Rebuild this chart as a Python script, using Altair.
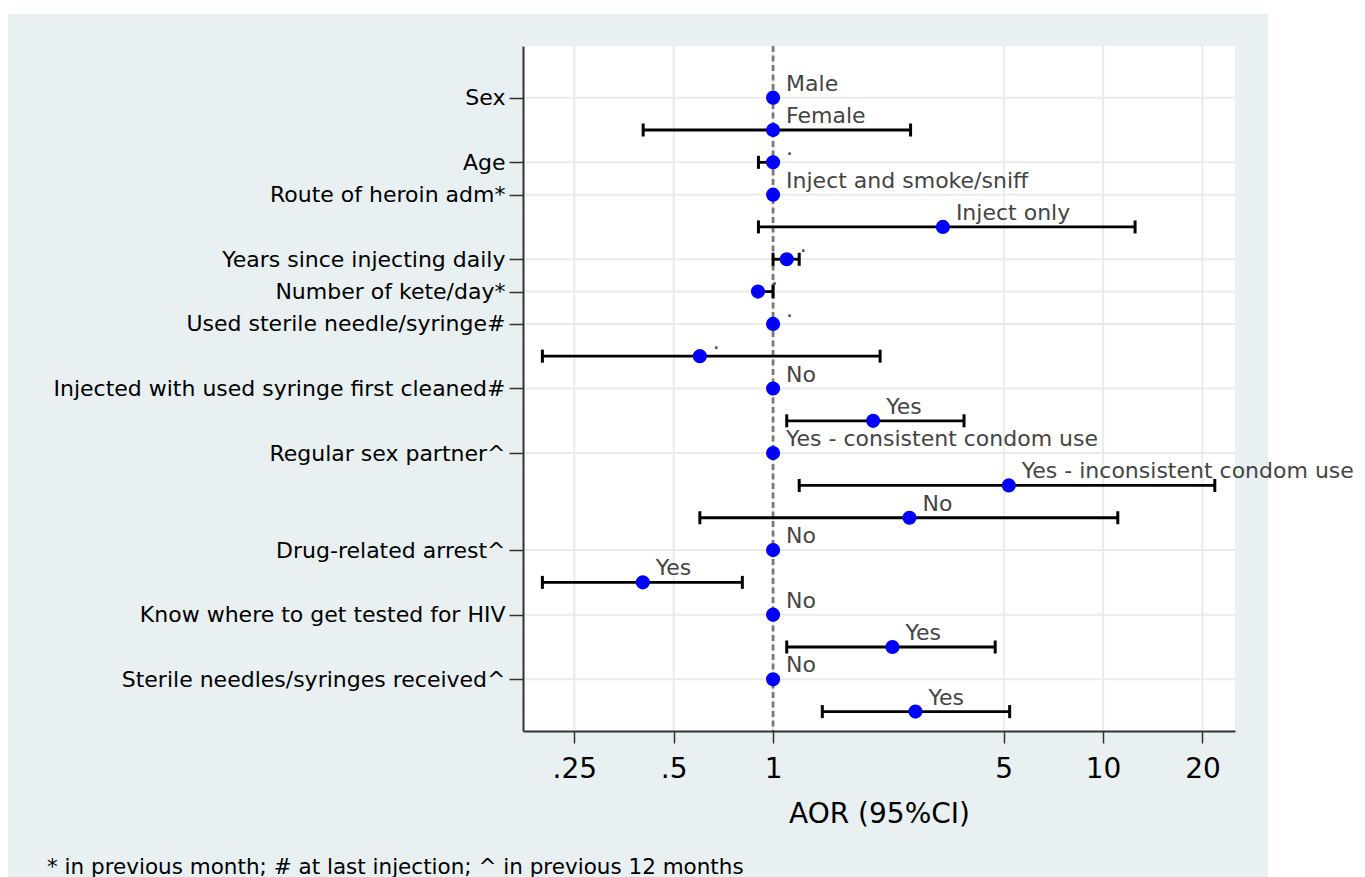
import altair as alt
import pandas as pd

# ---------------- data ----------------
rows = list(range(1, 21))
point_labels = [
    "Male", "Female", ".", "Inject and smoke/sniff", "Inject only",
    ".", ".", ".", ".", "No", "Yes",
    "Yes - consistent condom use", "Yes - inconsistent condom use", "No",
    "No", "Yes", "No", "Yes", "No", "Yes",
]
aor = [1, 1, 1, 1, 3.27, 1.10, 0.90, 1, 0.60, 1, 2.01, 1, 5.18, 2.59,
       1, 0.403, 1, 2.30, 1, 2.70]
ci_lo = [None, 0.404, 0.903, None, 0.903, 1.0, 0.90, None, 0.20, None, 1.10,
         None, 1.20, 0.60, None, 0.20, None, 1.10, None, 1.41]
ci_hi = [None, 2.61, 1.0, None, 12.5, 1.20, 1.0, None, 2.11, None, 3.79,
         None, 21.8, 11.08, None, 0.807, None, 4.71, None, 5.21]

axis_rows = [1, 3, 4, 6, 7, 8, 10, 12, 15, 17, 19]
axis_names = [
    "Sex", "Age", "Route of heroin adm*", "Years since injecting daily",
    "Number of kete/day*", "Used sterile needle/syringe#",
    "Injected with used syringe first cleaned#", "Regular sex partner^",
    "Drug-related arrest^", "Know where to get tested for HIV",
    "Sterile needles/syringes received^",
]
x_ticks = [0.25, 0.5, 1, 5, 10, 20]
x_tick_text = [".25", ".5", "1", "5", "10", "20"]
x_title = "AOR (95%CI)"
footnote = "* in previous month; # at last injection; ^ in previous 12 months"

# ---------------- layout / style ----------------
W, H = 712, 685
PAD_L, PAD_T = 523, 46
TOTAL_W, TOTAL_H = 1365, 877
FONT = "DejaVu Sans"
BG = "#E8F0F2"
GRID = "#EBEBEB"

df = pd.DataFrame({"row": rows, "label": point_labels, "aor": aor,
                   "lo": ci_lo, "hi": ci_hi})
ci = df.dropna(subset=["lo", "hi"])

xs = alt.Scale(type="log", domain=[0.1747, 25.1], nice=False)
ys = alt.Scale(domain=[-0.6, 20.6], reverse=True, nice=False, zero=False)


def ternary(field, keys, texts):
    parts = [f"{field} == {k} ? '{t}'" for k, t in zip(keys, texts)]
    return " : ".join(parts) + " : ''"


x_axis = alt.Axis(
    values=x_ticks, labelExpr=ternary("datum.value", x_ticks, x_tick_text),
    title=x_title, grid=False, zindex=1, tickSize=12, tickColor="#333333",
    tickWidth=1.5, domainColor="#333333", domainWidth=2, labelFont=FONT,
    labelFontSize=28, labelColor="black", labelPadding=12, titleFont=FONT,
    titleFontSize=28, titleFontWeight="normal", titleColor="black",
    titlePadding=17, labelFlush=False, labelOverlap=False,
)
y_axis = alt.Axis(
    values=axis_rows, labelExpr=ternary("datum.value", axis_rows, axis_names),
    title=None, grid=False, zindex=1, tickSize=14, tickColor="#333333",
    tickWidth=1.5, domainColor="#333333", domainWidth=2, labelFont=FONT,
    labelFontSize=22, labelColor="black", labelPadding=4, labelLimit=1000,
    labelOverlap=False,
)


def X(field):
    return alt.X(field, scale=xs, axis=x_axis)


def Y(field):
    return alt.Y(field, scale=ys, axis=y_axis)


one = alt.Data(values=[{"a": 1}])

bg = alt.Chart(one).mark_rect(color=BG).encode(
    x=alt.value(8 - PAD_L), x2=alt.value(1268 - PAD_L),
    y=alt.value(14 - PAD_T), y2=alt.value(TOTAL_H - PAD_T),
)
panel = alt.Chart(one).mark_rect(color="white").encode(
    x=alt.value(0), x2=alt.value(W), y=alt.value(0), y2=alt.value(H),
)
vgrid = alt.Chart(pd.DataFrame({"v": x_ticks})).mark_rule(
    color=GRID, strokeWidth=2).encode(x=X("v:Q"))
hgrid = alt.Chart(pd.DataFrame({"r": axis_rows})).mark_rule(
    color=GRID, strokeWidth=2).encode(y=Y("r:Q"))
ref = alt.Chart(pd.DataFrame({"v": [1]})).mark_rule(
    color="#7A7A7A", strokeWidth=2.8, strokeDash=[6, 3.5]).encode(x=X("v:Q"))

ci_rule = alt.Chart(ci).mark_rule(color="black", strokeWidth=2.8).encode(
    x=X("lo:Q"), x2="hi:Q", y=Y("row:Q"))
cap_lo = alt.Chart(ci).mark_tick(orient="vertical", size=13, thickness=3,
                                 color="black", opacity=1).encode(
    x=X("lo:Q"), y=Y("row:Q"))
cap_hi = alt.Chart(ci).mark_tick(orient="vertical", size=13, thickness=3,
                                 color="black", opacity=1).encode(
    x=X("hi:Q"), y=Y("row:Q"))

pts = alt.Chart(df).mark_circle(size=200, color="#0000FF", opacity=1).encode(
    x=X("aor:Q"), y=Y("row:Q"))
labels = alt.Chart(df).mark_text(
    align="left", baseline="alphabetic", dx=13, dy=-7, fontSize=22,
    font=FONT, color="#444444").encode(
    x=X("aor:Q"), y=Y("row:Q"), text="label:N")
foot = alt.Chart(alt.Data(values=[{"t": footnote}])).mark_text(
    align="left", baseline="alphabetic", fontSize=21.5, font=FONT,
    color="black").encode(
    x=alt.value(47 - PAD_L), y=alt.value(874 - PAD_T), text="t:N")

chart = alt.layer(
    bg, panel, vgrid, hgrid, ref, ci_rule, cap_lo, cap_hi, pts, labels, foot
).properties(
    width=W, height=H, autosize="none", background="white",
    padding={"left": PAD_L, "top": PAD_T, "right": TOTAL_W - PAD_L - W,
             "bottom": TOTAL_H - PAD_T - H},
).configure_view(stroke=None)

chart.save("out.html", embed_options={"renderer": "svg", "actions": False})
